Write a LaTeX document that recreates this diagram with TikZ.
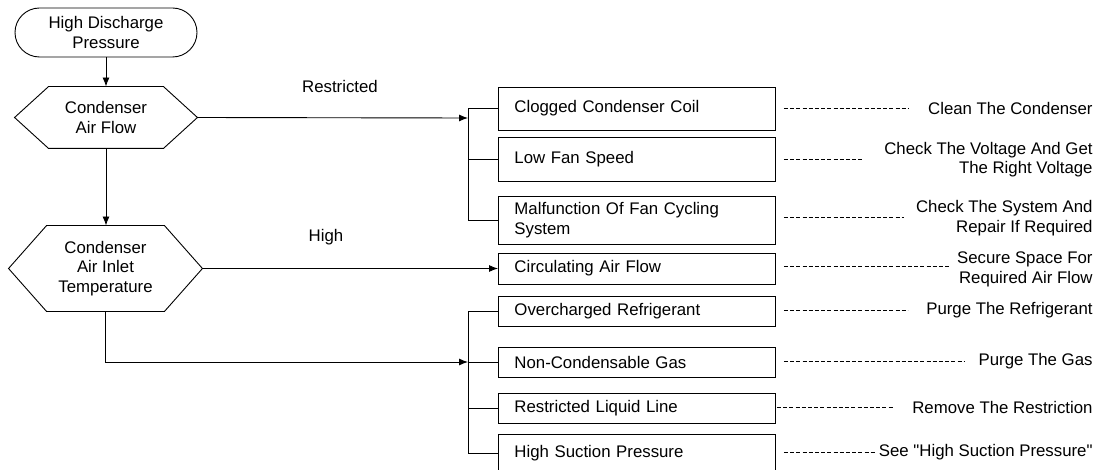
\documentclass[tikz,border=0pt]{standalone}
\usepackage{fontspec}
\setmainfont{Liberation Sans}
\usetikzlibrary{arrows.meta}

\begin{document}
\begin{tikzpicture}[x=1pt, y=-1pt, line width=0.9pt,
    font=\fontsize{16.8}{19.5}\selectfont,
    arrow/.style={-{Latex[length=9pt,width=7pt]}},
    hexnode/.style={inner sep=0pt, align=center},
    cause/.style={draw, anchor=west, text width=245pt, inner xsep=16pt, inner ysep=0pt, align=left},
    remedy/.style={anchor=east, inner sep=0pt, align=right},
    leader/.style={line width=1pt, dash pattern=on 4pt off 2.2pt}]
    \useasboundingbox (0,0) rectangle (1105,470);

    % Start
    \node[draw, rounded corners=24.5pt, minimum width=182pt, minimum height=49pt, align=center] (hdp) at (106,32.5) {High Discharge\\Pressure};

    % Decisions
    \node[hexnode, minimum width=114pt, minimum height=61pt] (caf) at (106,117.5) {Condenser\\Air Flow};
    \draw (caf.north west) -- (caf.north east) -- ([xshift=34pt]caf.east) coordinate (caf-r)
        -- (caf.south east) -- (caf.south west) -- ([xshift=-34pt]caf.west) -- cycle;

    \node[hexnode, minimum width=117pt, minimum height=85pt] (cait) at (105.5,268.5) {Condenser\\Air Inlet\\Temperature};
    \draw (cait.north west) -- (cait.north east) -- ([xshift=38pt]cait.east) coordinate (cait-r)
        -- (cait.south east) -- (cait.south west) -- ([xshift=-38pt]cait.west) -- cycle;

    % Causes
    \node[cause, minimum height=43pt] (c1) at (498,108.5) {Clogged Condenser Coil};
    \node[cause, minimum height=44pt] (c2) at (498,159) {Low Fan Speed};
    \node[cause, minimum height=48pt] (c3) at (498,220) {Malfunction Of Fan Cycling\\System};
    \node[cause, minimum height=31pt] (c4) at (498,268.5) {Circulating Air Flow};
    \node[cause, minimum height=30pt] (c5) at (498,311) {Overcharged Refrigerant};
    \node[cause, minimum height=30pt] (c6) at (498,362) {Non-Condensable Gas};
    \node[cause, minimum height=30pt] (c7) at (498,408) {Restricted Liquid Line};
    \node[cause, minimum height=39pt] (c8) at (498,453.5) {High Suction Pressure};

    % Remedies
    \node[remedy] (r1) at (1093,108.5) {Clean The Condenser};
    \node[remedy] (r2) at (1093,159.5) {Check The Voltage And Get\\The Right Voltage};
    \node[remedy] (r3) at (1093,218) {Check The System And\\Repair If Required};
    \node[remedy] (r4) at (1093,269.5) {Secure Space For\\Required Air Flow};
    \node[remedy] (r5) at (1093,310) {Purge The Refrigerant};
    \node[remedy] (r6) at (1093,361) {Purge The Gas};
    \node[remedy] (r7) at (1093,407) {Remove The Restriction};
    \node[remedy] (r8) at (1093,452) {See \textquotedbl High Suction Pressure\textquotedbl};

    % Flow
    \draw[arrow] (hdp) -- (caf);
    \draw[arrow] (caf.south) -- (caf.south |- cait.north);

    \coordinate (bus1) at (468,118);
    \draw[arrow] (caf-r) -- (bus1);
    \node at (340,86) {Restricted};
    \draw (c1.west) -- (c1.west -| bus1) -- (c3.west -| bus1) -- (c3.west);
    \draw (c2.west) -- (c2.west -| bus1);

    \draw[arrow] (cait-r) -- (c4.west);
    \node at (326,237) {High};

    \coordinate (bus2) at (468,362);
    \draw[arrow] (cait.south) |- (bus2);
    \draw (c5.west) -- (c5.west -| bus2) -- (c8.west -| bus2) -- (c8.west);
    \draw (bus2) -- (c6.west);
    \draw (c7.west) -- (c7.west -| bus2);

    % Leaders
    \draw[leader] ([xshift=8pt]c1.east) -- ++(125,0);
    \draw[leader] ([xshift=8pt]c2.east |- r2) -- ++(78,0);
    \draw[leader] ([xshift=8pt]c3.east |- r3) -- ++(120,0);
    \draw[leader] ([xshift=8pt]c4.east |- 0,267) -- ++(166,0);
    \draw[leader] ([xshift=8pt]c5.east |- r5) -- ++(124,0);
    \draw[leader] ([xshift=8pt]c6.east |- r6) -- ++(180,0);
    \draw[leader] ([xshift=1pt]c7.east |- r7) -- ++(116,0);
    \draw[leader] ([xshift=8pt]c8.east |- r8) -- ++(91,0);
\end{tikzpicture}
\end{document}
